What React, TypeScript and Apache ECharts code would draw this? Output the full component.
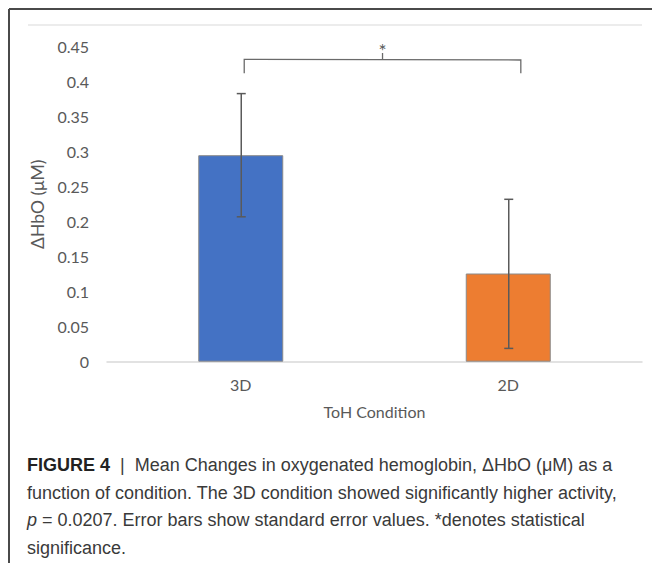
import React, { useEffect, useRef } from "react";
import * as echarts from "echarts";

const categories = ["3D", "2D"];
const meanValues = [0.295, 0.126];
const errorLow = [0.207, 0.019];
const errorHigh = [0.383, 0.232];
const barColors = ["#4472C4", "#ED7D31"];
const yMin = 0;
const yMax = 0.45;
const yInterval = 0.05;
// significance bracket (in data units)
const bracketLeftTop = 0.432;
const bracketRightTop = 0.431;
const bracketLegBottom = 0.412;
const bracketTickTop = 0.441;
const bracketStarLevel = 0.451;
const bracketPairs = [[0, 1]];

const captionLines = [
  "Mean Changes in oxygenated hemoglobin, \u0394HbO (\u03bcM) as a",
  "function of condition. The 3D condition showed significantly higher activity,",
  " = 0.0207. Error bars show standard error values. *denotes statistical",
  "significance.",
];

const FONT = "Lato, 'Open Sans', sans-serif";
const CAPFONT = "'Liberation Sans', Arial, sans-serif";
const GRAY = "#595959";

export default function App() {
  const ref = useRef<HTMLDivElement>(null);
  useEffect(() => {
    if (!ref.current) return;
    const chart = echarts.init(ref.current, undefined, { renderer: "svg" });
    const errData = categories.map((_, i) => [i, errorLow[i], errorHigh[i]]);
    chart.setOption({
      animation: false,
      backgroundColor: "#ffffff",
      textStyle: { fontFamily: FONT },
      grid: { left: 107, right: 10, top: 46.7, bottom: 201.3 },
      xAxis: {
        type: "category",
        data: categories,
        axisLine: { lineStyle: { color: "#d9d9d9", width: 1.5 } },
        axisTick: { show: false },
        axisLabel: { color: GRAY, fontSize: 16, margin: 15, fontFamily: FONT },
        name: "ToH Condition",
        nameLocation: "middle",
        nameGap: 42,
        nameTextStyle: { color: GRAY, fontSize: 16, fontFamily: FONT },
      },
      yAxis: {
        type: "value",
        min: yMin,
        max: yMax,
        interval: yInterval,
        splitLine: { show: false },
        axisLine: { show: false },
        axisTick: { show: false },
        axisLabel: { color: GRAY, fontSize: 16, margin: 18, fontFamily: FONT },
        name: "\u0394HbO (\u03bcM)",
        nameLocation: "middle",
        nameGap: 57,
        nameRotate: 90,
        nameTextStyle: { color: GRAY, fontSize: 17.5, fontFamily: FONT },
      },
      series: [
        {
          type: "bar",
          barWidth: 85,
          data: meanValues.map((v, i) => ({
            value: v,
            itemStyle: { color: barColors[i], borderColor: "#8a8a8a", borderWidth: 1 },
          })),
          z: 2,
        },
        {
          type: "custom",
          data: errData,
          encode: { x: 0, y: [1, 2] },
          z: 5,
          renderItem: (params: any, api: any) => {
            const x = api.value(0);
            const lo = api.coord([x, api.value(1)]);
            const hi = api.coord([x, api.value(2)]);
            const cx = lo[0] + 0.5;
            const hw = 4.5;
            const st = { stroke: "#5a5a5a", lineWidth: 1.5 };
            return {
              type: "group",
              children: [
                { type: "line", shape: { x1: cx, y1: lo[1], x2: cx, y2: hi[1] }, style: st },
                { type: "line", shape: { x1: cx - hw, y1: lo[1], x2: cx + hw, y2: lo[1] }, style: st },
                { type: "line", shape: { x1: cx - hw, y1: hi[1], x2: cx + hw, y2: hi[1] }, style: st },
              ],
            };
          },
        },
        {
          type: "custom",
          data: bracketPairs,
          encode: { x: [0, 1] },
          z: 5,
          renderItem: (params: any, api: any) => {
            const a = api.value(0);
            const b = api.value(1);
            const band = api.size([1, 0])[0];
            const lt = api.coord([a, bracketLeftTop]);
            const rt = api.coord([b, bracketRightTop]);
            const lb = api.coord([a, bracketLegBottom]);
            const rb = api.coord([b, bracketLegBottom]);
            const xl = lt[0] + band * 0.013;
            const xr = rt[0] + band * 0.047;
            const xm = (xl + xr) / 2;
            const midY = (lt[1] + rt[1]) / 2;
            const tickTop = api.coord([a, bracketTickTop])[1];
            const starY = api.coord([a, bracketStarLevel])[1];
            const st = { stroke: "#6a6a6a", lineWidth: 1.3, fill: null };
            return {
              type: "group",
              children: [
                {
                  type: "polyline",
                  shape: { points: [[xl, lb[1]], [xl, lt[1]], [xr, rt[1]], [xr, rb[1]]] },
                  style: st,
                },
                { type: "line", shape: { x1: xm, y1: midY, x2: xm, y2: tickTop }, style: st },
                {
                  type: "text",
                  x: xm,
                  y: starY + 4,
                  style: {
                    text: "*",
                    fill: GRAY,
                    fontSize: 19,
                    fontFamily: FONT,
                    align: "center",
                    verticalAlign: "middle",
                  },
                },
              ],
            };
          },
        },
      ],
      graphic: [
        { type: "line", shape: { x1: 9, y1: 9, x2: 652, y2: 9 }, style: { stroke: "#4a4a4a", lineWidth: 2 } },
        { type: "line", shape: { x1: 9, y1: 9, x2: 9, y2: 563 }, style: { stroke: "#4a4a4a", lineWidth: 2 } },
        { type: "line", shape: { x1: 28, y1: 25, x2: 642, y2: 25 }, style: { stroke: "#d9d9d9", lineWidth: 1 } },
        {
          type: "text",
          left: 27,
          top: 456,
          style: {
            text:
              "{b|FIGURE 4}{n|  |  " + captionLines[0] + "}\n" +
              "{n|" + captionLines[1] + "}\n" +
              "{i|p}{n|" + captionLines[2] + "}\n" +
              "{n|" + captionLines[3] + "}",
            rich: {
              b: { fontFamily: CAPFONT, fontWeight: "bold", fontSize: 18, fill: "#222", lineHeight: 27.5 },
              n: { fontFamily: CAPFONT, fontSize: 18, fill: "#3a3a3a", lineHeight: 27.5 },
              i: { fontFamily: CAPFONT, fontStyle: "italic", fontSize: 18, fill: "#3a3a3a", lineHeight: 27.5 },
            },
          },
        },
      ],
    });
    return () => chart.dispose();
  }, []);
  return (
    <div
      ref={ref}
      style={{ position: "fixed", left: 0, top: 0, width: 652, height: 563, background: "#fff" }}
    />
  );
}
